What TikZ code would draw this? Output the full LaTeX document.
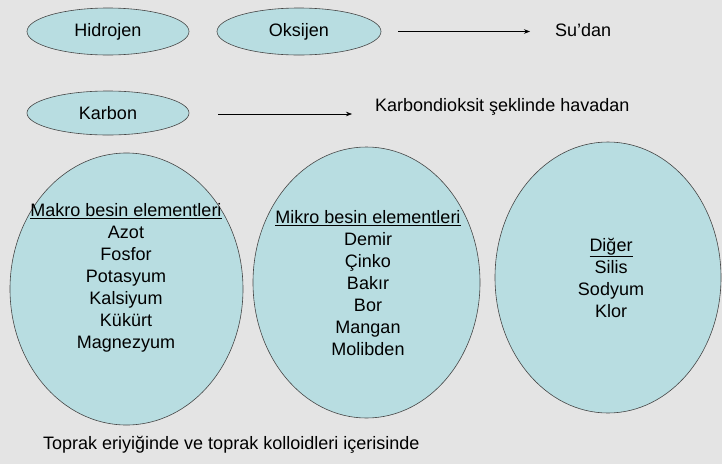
\documentclass[tikz,border=0pt]{standalone}
\usepackage{fontspec}
\setmainfont{Liberation Sans}
\usetikzlibrary{shapes.geometric,arrows.meta}
\definecolor{bgc}{RGB}{228,228,228}
\definecolor{ellfill}{RGB}{184,221,225}
\definecolor{ellline}{RGB}{70,70,70}
\begin{document}
\begin{tikzpicture}[x=1pt,y=-1pt,
  ell/.style={ellipse,draw=ellline,fill=ellfill,line width=0.6pt,inner sep=0pt},
  txt/.style={font=\fontsize{18}{22}\selectfont,inner sep=0pt,align=center},
  arr/.style={-{Stealth[length=6pt,width=4.5pt]},line width=0.6pt}]
\fill[bgc] (0,0) rectangle (722,464);
\useasboundingbox (0,0) rectangle (722,464);
% small ellipses
\node[ell,minimum width=162pt,minimum height=47pt] (hid) at (108,31.5) {};
\node[txt] (hidt) at (hid.center) {Hidrojen};
\node[ell,minimum width=164pt,minimum height=47pt] (oks) at (299,31.5) {};
\node[txt] (okst) at (oks.center) {Oksijen};
\node[ell,minimum width=162pt,minimum height=44pt] (kar) at (108,113) {};
\node[txt] (kart) at (kar.center) {Karbon};
% right texts
\node[txt,anchor=west] (su) at (555,30) {Su’dan};
\node[txt,anchor=west] (co2) at (375,107) {Karbondioksit şeklinde havadan};
\coordinate (a1s) at ([xshift=17pt]oks.east);
\coordinate (a2s) at ([xshift=29pt,yshift=-1pt]kar.east);
\draw[arr] (a1s) -- ([xshift=-25pt]su.west |- a1s);
\draw[arr] (a2s) -- ([xshift=-23pt]co2.west |- a2s);
% big ellipses
\node[ell,minimum width=233pt,minimum height=272pt] (mak) at (126.5,289) {};
\node[txt] (makt) at (126,278) {\underline{Makro besin elementleri}\\Azot\\Fosfor\\Potasyum\\Kalsiyum\\Kükürt\\Magnezyum};
\node[ell,minimum width=227pt,minimum height=271pt] (mik) at (366.5,282.5) {};
\node[txt] (mikt) at (368,283) {\underline{Mikro besin elementleri}\\Demir\\Çinko\\Bakır\\Bor\\Mangan\\Molibden};
\node[ell,minimum width=226pt,minimum height=271pt] (dig) at (608,277.5) {};
\node[txt] (digt) at (611,278) {\underline{Diğer}\\Silis\\Sodyum\\Klor};
% bottom
\node[txt,anchor=west] (bot) at (43,445) {Toprak eriyiğinde ve toprak kolloidleri içerisinde};
\end{tikzpicture}
\end{document}
